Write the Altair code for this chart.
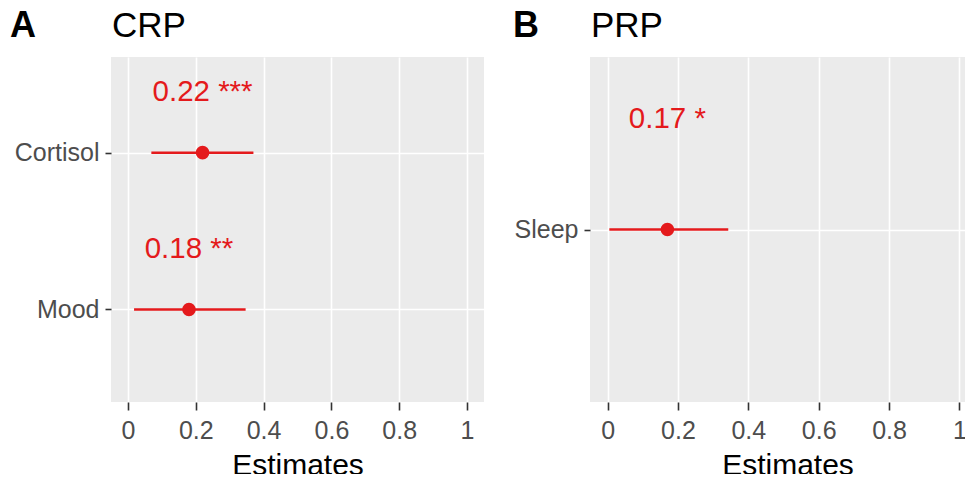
import json
import altair as alt
import pandas as pd

# ---- data ----
a_cats = ["Mood", "Cortisol"]          # bottom -> top
a_est = [0.18, 0.22]
a_lo = [0.018, 0.069]
a_hi = [0.347, 0.370]
a_lab = ["0.18 **", "0.22 ***"]

b_cats = ["Sleep"]
b_est = [0.17]
b_lo = [0.005]
b_hi = [0.343]
b_lab = ["0.17 *"]

x_ticks = [0, 0.2, 0.4, 0.6, 0.8, 1]
x_minor = [0.1, 0.3, 0.5, 0.7, 0.9]

RED = "#E41A1C"
FONT = "Liberation Sans"
LABEL_OFFSET = 0.385


def panel(title, letter, cats, est, lo, hi, labels, width, letter_dx, title_x, ypad):
    pos = list(range(1, len(cats) + 1))
    df = pd.DataFrame({
        "pos": pos, "est": est, "lo": lo, "hi": hi, "label": labels,
        "lab_pos": [p + LABEL_OFFSET for p in pos],
    })
    xscale = alt.Scale(domain=[-0.05, 1.05], nice=False, zero=False)
    yscale = alt.Scale(domain=[0.4 + ypad, len(cats) + 0.6 + ypad], nice=False, zero=False)
    minor_test = "round(datum.value*10) % 2 == 1"
    xaxis = alt.Axis(
        values=x_ticks + x_minor,
        labelExpr=f"({minor_test}) ? '' : format(datum.value, '~g')",
        labelOverlap=False,
        grid=True, gridColor="white",
        gridWidth={"condition": {"test": minor_test, "value": 0.8}, "value": 1.6},
        tickOpacity={"condition": {"test": minor_test, "value": 0}, "value": 1},
        tickColor="#333333", tickWidth=1.6, tickSize=8,
        domain=False, labelFont=FONT, labelFontSize=25, labelColor="#4D4D4D",
        labelPadding=8, title="Estimates", titleFont=FONT, titleFontSize=30,
        titleFontWeight="normal", titleColor="black", titleBaseline="alphabetic",
        titleY=72, titleX=title_x,
    )
    yaxis = alt.Axis(
        values=pos,
        labelExpr=f"{json.dumps(cats)}[datum.value - 1]",
        grid=True, gridColor="white", gridWidth=1.6,
        tickColor="#333333", tickWidth=1.6, tickSize=6, domain=False,
        labelFont=FONT, labelFontSize=25, labelColor="#4D4D4D", labelPadding=6,
        title=None,
    )
    base = alt.Chart(df)
    rule = base.mark_rule(color=RED, strokeWidth=2.5).encode(
        x=alt.X("lo:Q", scale=xscale, axis=xaxis),
        x2="hi:Q",
        y=alt.Y("pos:Q", scale=yscale, axis=yaxis),
    )
    pts = base.mark_point(filled=True, shape="circle", size=185, color=RED, opacity=1).encode(
        x="est:Q", y="pos:Q"
    )
    txt = base.mark_text(color=RED, font=FONT, fontSize=29.5, align="center", baseline="middle").encode(
        x="est:Q", y="lab_pos:Q", text="label:N"
    )
    head = pd.DataFrame({"t": [letter, title], "dx": [letter_dx, 1],
                         "w": ["bold", "normal"], "fs": [36, 35]})
    heads = []
    for i in range(2):
        heads.append(
            alt.Chart(head.iloc[[i]]).mark_text(
                font=FONT, fontSize=int(head.fs[i]), fontWeight=head.w[i], align="left",
                baseline="alphabetic", color="black"
            ).encode(x=alt.value(int(head.dx[i])), y=alt.value(-20), text="t:N")
        )
    return alt.layer(rule, pts, txt, *heads).properties(width=width, height=345)


pa = panel("CRP", "A", a_cats, a_est, a_lo, a_hi, a_lab, 373, -101, 186.5, 0.01)
pb = panel("PRP", "B", b_cats, b_est, b_lo, b_hi, b_lab, 387, -77, 197.5, 0.0)

chart = alt.hconcat(pa, pb, spacing=29).properties(
    padding={"left": 2, "top": 0, "right": -12, "bottom": -6}
).configure(background="white").configure_view(fill="#EBEBEB", stroke=None)

chart.save("out.html", embed_options={"renderer": "svg", "actions": False})
